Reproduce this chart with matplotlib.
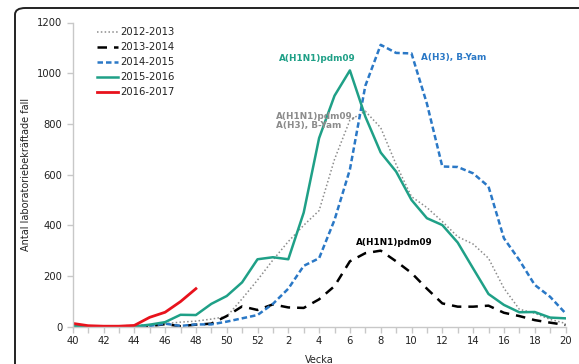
import matplotlib
matplotlib.use("Agg")
import matplotlib.pyplot as plt
import numpy as np
from matplotlib.patches import FancyBboxPatch

weeks = [40, 41, 42, 43, 44, 45, 46, 47, 48, 49, 50, 51, 52,
         1, 2, 3, 4, 5, 6, 7, 8, 9, 10, 11, 12, 13, 14, 15, 16, 17, 18, 19, 20]

s2012 = [0, 0, 2, 3, 5, 8, 12, 18, 22, 30, 40, 110, 184, 263, 336, 400, 458,
         660, 815, 850, 785, 640, 513, 470, 415, 355, 326, 270, 152, 69, 53, 29, 13]
s2013 = [0, 0, 0, 0, 0, 2, 10, 2, 8, 12, 42, 80, 66, 88, 76, 74, 108,
         160, 258, 290, 300, 258, 212, 150, 92, 79, 79, 83, 55, 42, 26, 16, 7]
s2014 = [2, 1, 0, 1, 2, 3, 12, 3, 9, 9, 20, 33, 46, 90, 150, 240, 270,
         421, 620, 950, 1112, 1080, 1078, 880, 632, 630, 605, 553, 349, 263, 165, 118, 53]
s2015 = [2, 1, 0, 0, 1, 8, 18, 47, 46, 90, 121, 175, 266, 274, 266, 450, 744,
         911, 1011, 829, 687, 612, 500, 428, 401, 332, 230, 129, 86, 57, 58, 36, 33]
s2016 = [13, 4, 2, 2, 5, 37, 57, 99, 150]

labels = ["2012-2013", "2013-2014", "2014-2015", "2015-2016", "2016-2017"]
yticks = [0, 200, 400, 600, 800, 1000, 1200]

teal = "#1fa087"
blue = "#2a78c6"
gray = "#8c8c8c"
red = "#e8121c"

W, H = 579, 364
fig = plt.figure(figsize=(W / 100, H / 100), dpi=100)
ax = fig.add_axes([72.7 / W, 1 - 326.7 / H, (565.5 - 72.7) / W, (326.7 - 22.5) / H])

x = np.arange(len(weeks))
ax.plot(x, s2012, color=gray, lw=1.1, linestyle=(0, (1, 1.5)), label=labels[0])
ax.plot(x, s2013, color="black", lw=1.8, linestyle=(0, (3.8, 2.8)), label=labels[1])
ax.plot(x, s2014, color=blue, lw=1.8, linestyle=(0, (2.2, 1.2)), label=labels[2])
ax.plot(x, s2015, color=teal, lw=1.8, label=labels[3])
ax.plot(x[:len(s2016)], s2016, color=red, lw=2.0, label=labels[4])

ax.set_xlim(0, len(weeks) - 1)
ax.set_ylim(0, 1200)
ax.set_yticks(yticks)
ax.set_yticklabels([str(v) for v in yticks])
ax.set_xticks(x)
ax.set_xticklabels([str(w) if w % 2 == 0 else "" for w in weeks])

for side in ["top", "right"]:
    ax.spines[side].set_visible(False)
for side in ["left", "bottom"]:
    ax.spines[side].set_color("#c8c8c8")
    ax.spines[side].set_linewidth(1.0)
ax.tick_params(axis="both", colors="#c8c8c8", labelcolor="#222222", labelsize=7.2, length=4, width=1)
ax.tick_params(axis="x", pad=3)

ax.set_ylabel("Antal laboratoriebekräftade fall", fontsize=7, color="#222222", labelpad=4)
ax.set_xlabel("Vecka", fontsize=7, color="#222222", labelpad=6)

leg = ax.legend(loc="upper left", bbox_to_anchor=(97 / W, 1 - 27 / H), bbox_transform=fig.transFigure,
                frameon=False, fontsize=7.2, handlelength=2.1, handletextpad=0.2,
                labelspacing=0.5, borderpad=0, borderaxespad=0)
for t in leg.get_texts():
    t.set_color("#222222")

ax.text(15.9, 1058, "A(H1N1)pdm09", color=teal, fontsize=6.4, fontweight="bold", ha="center", va="center")
ax.text(22.6, 1062, "A(H3), B-Yam", color=blue, fontsize=6.4, fontweight="bold", ha="left", va="center")
ax.text(13.2, 812, "A(H1N1)pdm09,\nA(H3), B-Yam", color=gray, fontsize=6.4, fontweight="bold",
        ha="left", va="center", linespacing=1.1)
ax.text(18.4, 332, "A(H1N1)pdm09", color="black", fontsize=6.4, fontweight="bold", ha="left", va="center")

frame = FancyBboxPatch((15 / W, -0.2), 1.2, 1.2 - 8 / H,
                       boxstyle="round,pad=0,rounding_size=0.018",
                       transform=fig.transFigure, fill=False, edgecolor="#222222", lw=1.4, clip_on=False)
fig.patches.append(frame)

fig.savefig("out.png", dpi=100)
